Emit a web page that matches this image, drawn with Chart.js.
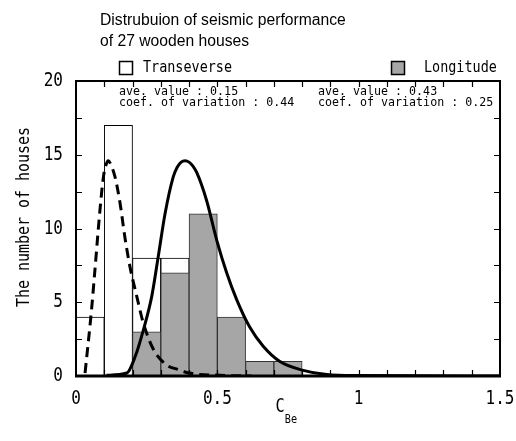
<!DOCTYPE html>
<html>
<head>
<meta charset="utf-8">
<script src="https://cdn.jsdelivr.net/npm/chart.js@4.4.1/dist/chart.umd.min.js"></script>
<style>
  html, body { margin: 0; padding: 0; background: #ffffff; }
  #wrap { width: 516px; height: 441px; position: relative; }
</style>
</head>
<body>
<div id="wrap"><canvas id="histChart"></canvas></div>
<script>
const binCenters = [0.05, 0.15, 0.25, 0.35, 0.45, 0.55, 0.65, 0.75];
const transverseCounts = [4, 17, 8, 8, 0, 0, 0, 0];
const longitudeCounts = [0, 0, 3, 7, 11, 4, 1, 1];

const transverseCurveX = [0.032, 0.055, 0.067, 0.085, 0.097, 0.106, 0.114, 0.124, 0.138, 0.156, 0.173, 0.191, 0.215, 0.238, 0.274, 0.32, 0.36, 0.40, 0.51, 0.62];
const transverseCurveY = [0.2, 4.5, 7.2, 11.3, 13.5, 14.3, 14.6, 14.3, 13.5, 11.7, 9.4, 7.4, 5.4, 3.6, 1.8, 0.75, 0.45, 0.2, 0.05, 0];

const longitudeCurveX = [0.108, 0.18, 0.209, 0.238, 0.268, 0.291, 0.315, 0.344, 0.358, 0.372, 0.386, 0.40, 0.413, 0.427, 0.462, 0.498, 0.533, 0.568, 0.615, 0.663, 0.72, 0.80, 0.887, 1.0, 1.5];
const longitudeCurveY = [0.05, 0.2, 1.3, 3.1, 5.4, 8.1, 11.0, 13.5, 14.15, 14.5, 14.6, 14.5, 14.25, 13.8, 11.9, 9.2, 7.0, 5.2, 3.3, 2.0, 1.0, 0.4, 0.1, 0.03, 0];

const xTickLabels = ["0", "0.5", "1", "1.5"];
const yTickLabels = ["0", "5", "10", "15", "20"];

const MONO = "'DejaVu Sans Mono', 'Liberation Mono', monospace";
const SANS = "'Liberation Sans', Arial, sans-serif";

function toPoints(xs, ys) {
  return xs.map(function (x, i) {
    return { x: x, y: ys[i] };
  });
}

// squeezed text, like the narrow japanese gothic of the original
function drawText(ctx, text, x, y, font, squeeze, align) {
  ctx.save();
  ctx.font = font;
  ctx.fillStyle = "#000000";
  ctx.textBaseline = "middle";
  const w = ctx.measureText(text).width * squeeze;
  let left = x;
  if (align === "center") left = x - w / 2;
  if (align === "right") left = x - w;
  ctx.translate(left, y);
  ctx.scale(squeeze, 1);
  ctx.textAlign = "left";
  ctx.fillText(text, 0, 0);
  ctx.restore();
}

const decorPlugin = {
  id: "decor",
  afterDraw: function (chart) {
    const ctx = chart.ctx;
    const area = chart.chartArea;
    const xs = chart.scales.x;
    const ys = chart.scales.y;

    // frame
    ctx.save();
    ctx.strokeStyle = "#000000";
    ctx.lineWidth = 2;
    ctx.strokeRect(area.left, area.top, area.right - area.left, area.bottom - area.top);
    ctx.lineWidth = 3;
    ctx.beginPath();
    ctx.moveTo(area.left - 1, area.bottom);
    ctx.lineTo(area.right + 1, area.bottom);
    ctx.stroke();

    // inward ticks
    ctx.lineWidth = 1.2;
    ctx.beginPath();
    for (let v = 0.1; v < 1.5; v += 0.1) {
      const px = Math.round(xs.getPixelForValue(v)) + 0.5;
      ctx.moveTo(px, area.bottom);
      ctx.lineTo(px, area.bottom - 6);
      ctx.moveTo(px, area.top);
      ctx.lineTo(px, area.top + 6);
    }
    for (let v = 2.5; v < 20; v += 2.5) {
      const py = Math.round(ys.getPixelForValue(v)) + 0.5;
      ctx.moveTo(area.left, py);
      ctx.lineTo(area.left + 6, py);
      ctx.moveTo(area.right, py);
      ctx.lineTo(area.right - 6, py);
    }
    ctx.stroke();
    ctx.restore();

    // tick labels
    const tickFont = "20px " + MONO;
    xTickLabels.forEach(function (label) {
      drawText(ctx, label, xs.getPixelForValue(parseFloat(label)), area.bottom + 23, tickFont, 0.8, "center");
    });
    yTickLabels.forEach(function (label) {
      drawText(ctx, label, area.left - 13, ys.getPixelForValue(parseFloat(label)), tickFont, 0.8, "right");
    });

    // axis titles
    ctx.save();
    ctx.translate(25, 217);
    ctx.rotate(-Math.PI / 2);
    drawText(ctx, "The number of houses", 0, 0, "17px " + MONO, 0.88, "center");
    ctx.restore();
    drawText(ctx, "C", 280, 407, "19px " + MONO, 0.8, "center");
    drawText(ctx, "Be", 291, 420, "12px " + MONO, 0.85, "center");

    // title
    drawText(ctx, "Distrubuion of seismic performance", 100, 21, "16px " + SANS, 0.98, "left");
    drawText(ctx, "of 27 wooden houses", 100, 42, "16px " + SANS, 0.98, "left");

    // legend
    ctx.save();
    ctx.lineWidth = 1.5;
    ctx.strokeStyle = "#000000";
    ctx.fillStyle = "#ffffff";
    ctx.fillRect(119.5, 61.5, 13, 13);
    ctx.strokeRect(119.5, 61.5, 13, 13);
    ctx.fillStyle = "#a6a6a6";
    ctx.fillRect(391.5, 61.5, 13, 13);
    ctx.strokeRect(391.5, 61.5, 13, 13);
    ctx.restore();
    drawText(ctx, "Transeverse", 143, 68, "16px " + MONO, 0.84, "left");
    drawText(ctx, "Longitude", 424, 68, "16px " + MONO, 0.84, "left");

    // statistics
    const statFont = "12px " + MONO;
    drawText(ctx, "ave. value : 0.15", 119, 92, statFont, 0.97, "left");
    drawText(ctx, "coef. of variation : 0.44", 119, 103, statFont, 0.97, "left");
    drawText(ctx, "ave. value : 0.43", 318, 92, statFont, 0.97, "left");
    drawText(ctx, "coef. of variation : 0.25", 318, 103, statFont, 0.97, "left");
  }
};

new Chart(document.getElementById("histChart"), {
  type: "bar",
  data: {
    datasets: [
      {
        type: "line",
        label: "Transeverse fit",
        data: toPoints(transverseCurveX, transverseCurveY),
        borderColor: "#000000",
        borderWidth: 3,
        borderDash: [10, 6],
        pointRadius: 0,
        cubicInterpolationMode: "monotone",
        fill: false,
        order: 0
      },
      {
        type: "line",
        label: "Longitude fit",
        data: toPoints(longitudeCurveX, longitudeCurveY),
        borderColor: "#000000",
        borderWidth: 3,
        pointRadius: 0,
        cubicInterpolationMode: "monotone",
        fill: false,
        order: 0
      },
      {
        label: "Longitude",
        data: toPoints(binCenters, longitudeCounts),
        backgroundColor: "#a6a6a6",
        borderColor: "#333333",
        borderWidth: 1,
        barPercentage: 1,
        categoryPercentage: 1,
        grouped: false,
        order: 1
      },
      {
        label: "Transeverse",
        data: toPoints(binCenters, transverseCounts),
        backgroundColor: "#ffffff",
        borderColor: "#000000",
        borderWidth: 1,
        barPercentage: 1,
        categoryPercentage: 1,
        grouped: false,
        order: 2
      }
    ]
  },
  options: {
    responsive: true,
    maintainAspectRatio: false,
    animation: false,
    events: [],
    layout: {
      padding: { left: 76, top: 81, right: 16, bottom: 65 }
    },
    plugins: {
      legend: { display: false },
      tooltip: { enabled: false }
    },
    scales: {
      x: {
        type: "linear",
        min: 0,
        max: 1.5,
        display: false,
        offset: false
      },
      y: {
        min: 0,
        max: 20,
        display: false
      }
    }
  },
  plugins: [decorPlugin]
});
</script>
</body>
</html>
